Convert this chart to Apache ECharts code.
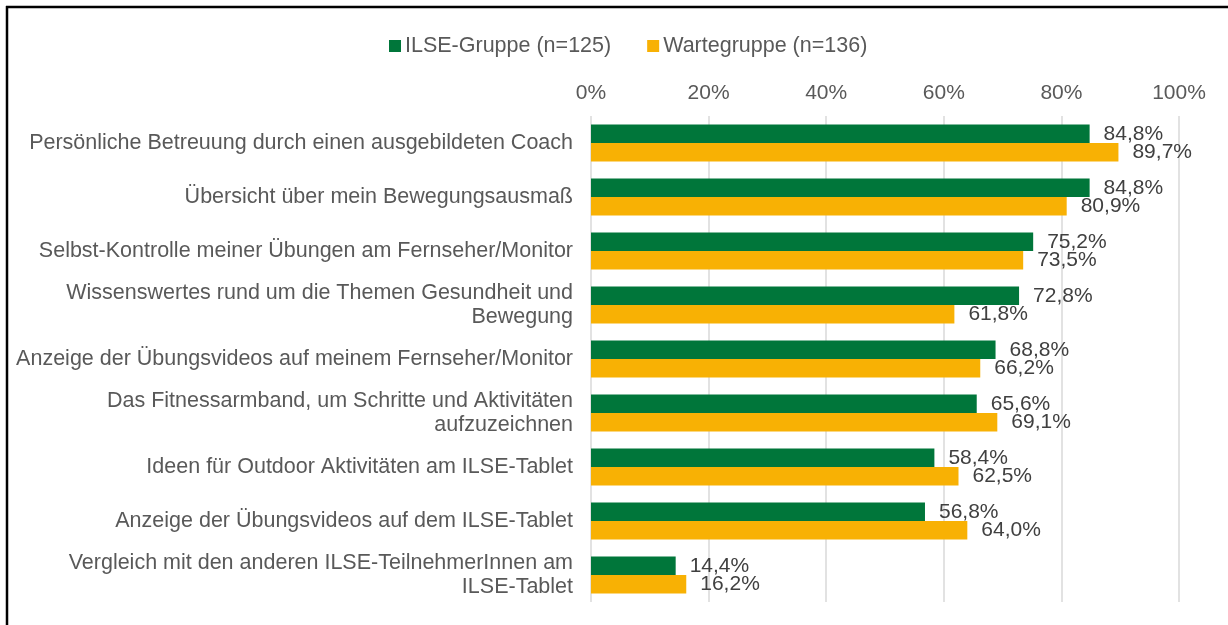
<!DOCTYPE html>
<html>
<head>
<meta charset="utf-8">
<script src="https://cdn.jsdelivr.net/npm/echarts@6/dist/echarts.min.js"></script>
<style>
html,body{margin:0;padding:0;background:#fff;}
#chart{width:1228px;height:625px;}
</style>
</head>
<body>
<div id="chart"></div>
<script>
const categories = [
  'Persönliche Betreuung durch einen ausgebildeten Coach',
  'Übersicht über mein Bewegungsausmaß',
  'Selbst-Kontrolle meiner Übungen am Fernseher/Monitor',
  'Wissenswertes rund um die Themen Gesundheit und\nBewegung',
  'Anzeige der Übungsvideos auf meinem Fernseher/Monitor',
  'Das Fitnessarmband, um Schritte und Aktivitäten\naufzuzeichnen',
  'Ideen für Outdoor Aktivitäten am ILSE-Tablet',
  'Anzeige der Übungsvideos auf dem ILSE-Tablet',
  'Vergleich mit den anderen ILSE-TeilnehmerInnen am\nILSE-Tablet'
];
const seriesNames = ['ILSE-Gruppe (n=125)', 'Wartegruppe (n=136)'];
const ilseValues = [84.8, 84.8, 75.2, 72.8, 68.8, 65.6, 58.4, 56.8, 14.4];
const warteValues = [89.7, 80.9, 73.5, 61.8, 66.2, 69.1, 62.5, 64.0, 16.2];
const xTicks = [0, 20, 40, 60, 80, 100];

const FONT = '"Liberation Sans", Arial, sans-serif';
const FS = 21;
const FS_CAT = 21.5;
const fmt = v => v.toFixed(1).replace('.', ',') + '%';

const chart = echarts.init(document.getElementById('chart'));
const labelStyle = {
  show: true, position: 'right', distance: 14,
  color: '#404040', fontSize: FS, fontFamily: FONT,
  formatter: p => fmt(p.value)
};
chart.setOption({
  animation: false,
  backgroundColor: '#fff',
  textStyle: { fontFamily: FONT },
  legend: {
    top: 30, left: 384,
    itemWidth: 12, itemHeight: 12, itemGap: 36,
    icon: 'rect',
    textStyle: { fontSize: FS_CAT, color: '#595959', fontFamily: FONT, padding: [0, 0, 0, -1] },
    data: seriesNames
  },
  grid: { left: 591, right: 49, top: 116, bottom: 23, containLabel: false },
  xAxis: {
    type: 'value', position: 'top', min: xTicks[0], max: xTicks[xTicks.length - 1], interval: 20,
    axisLine: { show: false }, axisTick: { show: false },
    splitLine: { show: true, lineStyle: { color: '#d9d9d9', width: 1.5 } },
    axisLabel: { formatter: v => v + '%', fontSize: FS, color: '#595959', fontFamily: FONT, margin: 12 }
  },
  yAxis: {
    type: 'category', inverse: true, data: categories,
    axisLine: { show: false }, axisTick: { show: false },
    axisLabel: { fontSize: FS_CAT, color: '#595959', fontFamily: FONT, margin: 18, lineHeight: 24, align: 'right' }
  },
  series: [
    { name: seriesNames[0], type: 'bar', data: ilseValues, barWidth: 18.5, barGap: '0%',
      itemStyle: { color: '#00763A' }, label: labelStyle },
    { name: seriesNames[1], type: 'bar', data: warteValues, barWidth: 18.5, barGap: '0%',
      itemStyle: { color: '#F8B104' }, label: labelStyle }
  ],
  graphic: [
    { type: 'line', shape: { x1: 6, y1: 7, x2: 1228, y2: 7 }, style: { stroke: '#000', lineWidth: 2.5 } },
    { type: 'line', shape: { x1: 7, y1: 6, x2: 7, y2: 625 }, style: { stroke: '#000', lineWidth: 2.5 } }
  ]
});
</script>
</body>
</html>
